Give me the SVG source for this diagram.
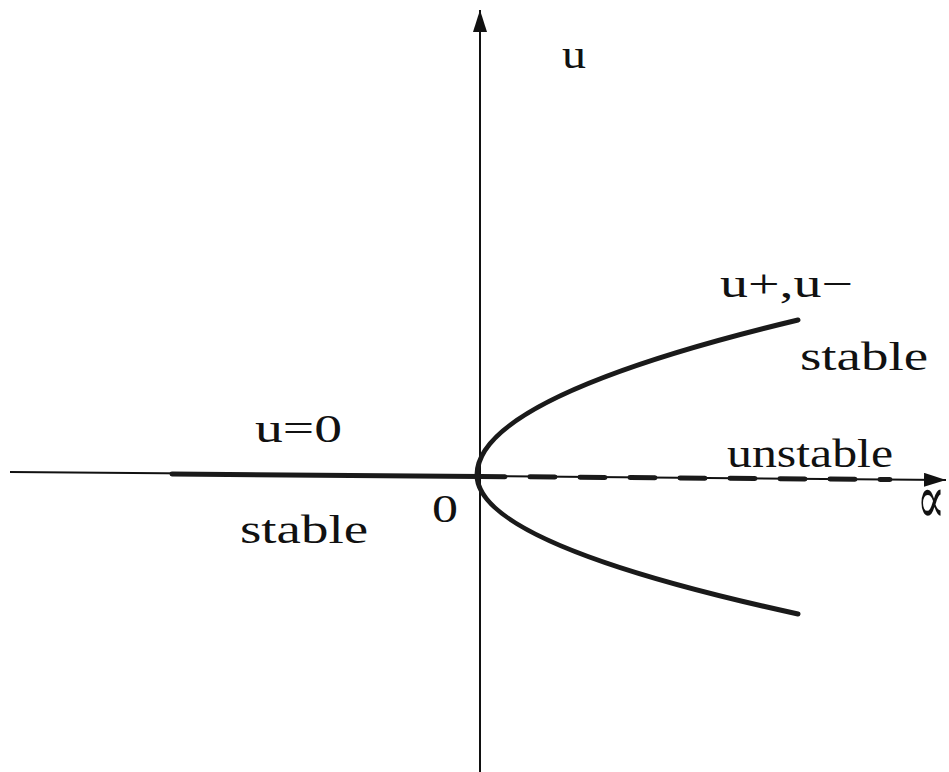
<svg xmlns="http://www.w3.org/2000/svg" width="949" height="772" viewBox="0 0 949 772">
<style>
.t{font-family:"Liberation Serif","DejaVu Serif",serif;font-size:40px;fill:#111}
.ax{stroke:#111;stroke-width:2;fill:none}
.br{stroke:#1a1a1a;stroke-width:5;fill:none;stroke-linecap:round}
</style>
<defs>
<marker id="ah" viewBox="0 0 22 14" refX="22" refY="7" markerWidth="22" markerHeight="14" markerUnits="userSpaceOnUse" orient="auto">
<path d="M0,0 L22,7 L0,14 Z" fill="#111"/>
</marker>
</defs>
<rect width="949" height="772" fill="#fff"/>
<g id="connectors">
<line id="u-axis" class="ax" x1="480" y1="772" x2="480" y2="10" marker-end="url(#ah)"/>
<line id="alpha-axis" class="ax" x1="10" y1="472" x2="946" y2="480" marker-end="url(#ah)"/>
</g>
<g id="branch-zero-stable">
<line class="br" x1="172" y1="474" x2="480" y2="476.5" stroke-width="4"/>
</g>
<g id="branch-zero-unstable">
<line class="br" x1="480" y1="476.5" x2="890" y2="479.5" stroke-width="4" stroke-dasharray="25 25" stroke-linecap="butt"/>
</g>
<g id="branch-pm">
<path class="br" stroke-width="4.5" d="M798,320 Q477,397 477,475 Q477,544 798,614"/>
</g>
<g id="labels">
<text class="t" x="562" y="68" font-size="44" textLength="24" lengthAdjust="spacingAndGlyphs">u</text>
<text class="t" x="720" y="297" textLength="133" lengthAdjust="spacingAndGlyphs">u+,u−</text>
<text class="t" x="800" y="370" textLength="128" lengthAdjust="spacingAndGlyphs">stable</text>
<text class="t" x="727" y="467" textLength="166" lengthAdjust="spacingAndGlyphs">unstable</text>
<text class="t" x="255" y="442" textLength="87" lengthAdjust="spacingAndGlyphs">u=0</text>
<text class="t" x="240" y="543" textLength="128" lengthAdjust="spacingAndGlyphs">stable</text>
<text class="t" x="432" y="522" font-size="38" textLength="26" lengthAdjust="spacingAndGlyphs">0</text>
<text class="t" transform="translate(917,523) scale(1,1.7)" x="0" y="0" font-size="52" textLength="28" lengthAdjust="spacingAndGlyphs">∝</text>
</g>
</svg>
